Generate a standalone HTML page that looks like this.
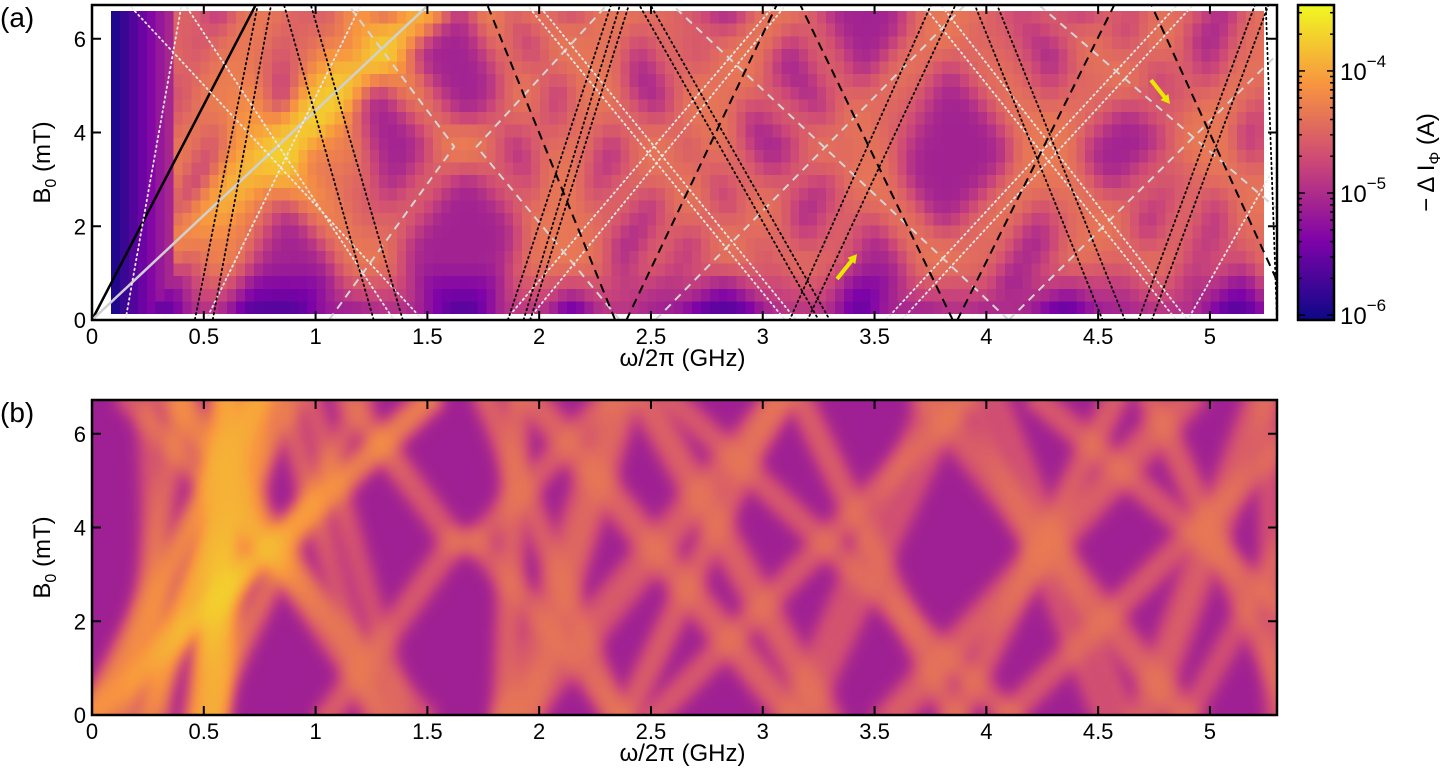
<!DOCTYPE html>
<html><head><meta charset="utf-8">
<style>
html,body{margin:0;padding:0;background:#fff;}
#root{position:relative;width:1453px;height:784px;overflow:hidden;font-family:"Liberation Sans",sans-serif;}
canvas{position:absolute;}
#ca{image-rendering:pixelated;}
svg{position:absolute;left:0;top:0;}
</style></head>
<body>
<div id="root">
<canvas id="ca"></canvas>
<canvas id="cb"></canvas>
<canvas id="cbar"></canvas>
<svg id="sv" width="1453" height="784"></svg>
</div>
<script>
// ---- data ----
const xTicks = [0,0.5,1,1.5,2,2.5,3,3.5,4,4.5,5];
const xTickLabels = ["0","0.5","1","1.5","2","2.5","3","3.5","4","4.5","5"];
const yTicks = [0,2,4,6];
const yTickLabels = ["0","2","4","6"];
const cbTicks = [-6,-5,-4];
// resonance lines: frequency at B=0 and at B=6.7 mT
const solidBlack = [[0,0.73]];
const solidGray = [[0,1.5]];
const dashedBlack = [[2.34,1.77],[2.39,3.06],[3.85,3.17],[3.87,4.57],[5.38,4.74]];
const dashedGrayPolys = [
  [[1.06,0],[1.62,3.7],[1.15,6.7]],
  [[2.36,0],[1.72,3.7],[2.3,6.7]],
  [[2.52,0],[3.9,6.7]],
  [[4.1,0],[2.6,6.7]],
  [[4.1,0],[5.52,6.7]],
  [[5.88,0],[4.24,6.7]]
];
const dottedBlack = [[0.46,0.74],[0.54,0.80],[1.26,0.86],[1.39,0.98],[1.86,2.32],[1.93,2.36],[1.96,2.4],
  [3.3,2.5],[3.25,2.45],[3.12,3.75],[3.2,3.86],[4.62,4.05],[4.52,3.95],[4.74,5.26],[4.68,5.2],[5.3,5.25]];
const dottedWhite = [[0.15,0.4],[1.48,0.17],[1.35,0.42],[0.51,1.2],[1.85,3.05],[1.95,3.1],[3.55,4.85],[3.62,4.92],
  [4.9,3.8],[4.85,3.72],[3.15,2.0],[3.1,1.95],[4.9,5.7]];
const bgA = -5.1;
const bgB = -5.12;
const extraB = [[0.55,0.62,1.4],[0.5,0.58,1.0],[0.25,0.75,1.2],[1.3,0.35,0.7],[0.1,0.9,0.6],[1.85,1.9,1.0],[0.3,0.25,0.5]];

// ---- geometry ----
const A = {l:92,r:1277,t:5,b:320}, Bp = {l:92,r:1277,t:400,b:715};
const fMax = 5.3, bMax = 6.72;
function xs(p,f){return p.l + f/fMax*(p.r-p.l);}
function ys(p,b){return p.b - b/bMax*(p.b-p.t);}
const stops=[[13,8,135],[126,3,168],[204,71,120],[248,149,64],[240,249,33]];
function cmap(t){t=Math.max(0,Math.min(1,t));const s=t*4;const i=Math.min(3,Math.floor(s));const u=s-i;
 return stops[i].map((c,k)=>Math.round(c+(stops[i+1][k]-c)*u));}
const vMin=-6.04,vMax=-3.46;
function allSegments(){
 const segs=[];
 solidBlack.concat(solidGray).forEach(l=>segs.push([l[0],0,l[1],6.7,1.3]));
 dashedBlack.forEach(l=>segs.push([l[0],0,l[1],6.7,0.9]));
 dottedBlack.forEach(l=>segs.push([l[0],0,l[1],6.7,0.6]));
 dottedWhite.forEach(l=>segs.push([l[0],0,l[1],6.7,0.6]));
 dashedGrayPolys.forEach(p=>{for(let i=0;i<p.length-1;i++)segs.push([p[i][0],p[i][1],p[i+1][0],p[i+1][1],0.8]);});
 return segs;
}
function intensity(segs,f,b,p,w){
 const px=xs(p,f),py=ys(p,b);let s=0;
 for(const g of segs){
  const x1=xs(p,g[0]),y1=ys(p,g[1]),x2=xs(p,g[2]),y2=ys(p,g[3]);
  const dx=x2-x1,dy=y2-y1;let t=((px-x1)*dx+(py-y1)*dy)/(dx*dx+dy*dy);t=Math.max(0,Math.min(1,t));
  const ex=px-(x1+t*dx),ey=py-(y1+t*dy);const d2=(ex*ex+ey*ey)/(w*w);
  s+=g[4]*Math.exp(-d2);
 }
 return s;
}
function boostA(f,b){const c=0.25+0.19*b;return 1+0.85*Math.exp(-Math.pow((f-c)/0.42,2))*Math.min(1,b/3.5);}
function boostB(f,b){return 1+0.5*Math.exp(-Math.pow((f-0.6)/0.35,2))+0.25*Math.exp(-Math.pow((f-(b/6.7)*1.5)/0.25,2));}
// ---- panel a heatmap ----
(function(){
 const f0=0.085,f1=5.24,b0=0.13,b1=6.6,nc=129,nr=24;
 const c=document.getElementById('ca');c.width=nc;c.height=nr;
 c.style.left=xs(A,f0)+'px';c.style.top=ys(A,b1)+'px';
 c.style.width=(xs(A,f1)-xs(A,f0))+'px';c.style.height=(ys(A,b0)-ys(A,b1))+'px';
 const ctx=c.getContext('2d');const im=ctx.createImageData(nc,nr);const segs=allSegments();
 for(let j=0;j<nr;j++)for(let i=0;i<nc;i++){
  const f=f0+(i+0.5)*(f1-f0)/nc,b=b1-(j+0.5)*(b1-b0)/nr;
  const s=intensity(segs,f,b,A,20);
  let v=bgA+0.78*(1-Math.exp(-1.2*s))*boostA(f,b);
  if(b<1.2)v-=(1.2-b)*0.55;
  if(f<0.35){const m=-6.0+(f-0.085)/0.25*0.9;v=Math.min(v,m);}
  const col=cmap((v-vMin)/(vMax-vMin));const k=(j*nc+i)*4;
  im.data[k]=col[0];im.data[k+1]=col[1];im.data[k+2]=col[2];im.data[k+3]=255;}
 ctx.putImageData(im,0,0);
})();
// ---- panel b heatmap ----
(function(){
 const nc=300,nr=90;const c=document.getElementById('cb');c.width=nc;c.height=nr;
 c.style.left=Bp.l+'px';c.style.top=Bp.t+'px';c.style.width=(Bp.r-Bp.l)+'px';c.style.height=(Bp.b-Bp.t)+'px';
 const ctx=c.getContext('2d');const im=ctx.createImageData(nc,nr);const segs=allSegments();
 extraB.forEach(e=>segs.push([e[0],0,e[1],6.7,e[2]]));
 for(let j=0;j<nr;j++)for(let i=0;i<nc;i++){
  const f=(i+0.5)*fMax/nc,b=bMax-(j+0.5)*bMax/nr;
  const s=intensity(segs,f,b,Bp,13);
  let v=bgB+0.8*(1-Math.exp(-1.2*s))*boostB(f,b);
  const col=cmap((v-vMin)/(vMax-vMin));const k=(j*nc+i)*4;
  im.data[k]=col[0];im.data[k+1]=col[1];im.data[k+2]=col[2];im.data[k+3]=255;}
 ctx.putImageData(im,0,0);
})();
// ---- colorbar ----
const CB={l:1298,r:1334,t:5,b:320};
(function(){
 const c=document.getElementById('cbar');c.width=1;c.height=200;
 c.style.left=CB.l+'px';c.style.top=CB.t+'px';c.style.width=(CB.r-CB.l)+'px';c.style.height=(CB.b-CB.t)+'px';
 const ctx=c.getContext('2d');for(let j=0;j<200;j++){const col=cmap(1-(j+0.5)/200);ctx.fillStyle=`rgb(${col})`;ctx.fillRect(0,j,1,1);}
})();
// ---- svg overlay ----
const NS='http://www.w3.org/2000/svg';const sv=document.getElementById('sv');
function mk(tag,attrs,parent){const e=document.createElementNS(NS,tag);for(const k in attrs)e.setAttribute(k,attrs[k]);(parent||sv).appendChild(e);return e;}
const clipDef=mk('defs',{});const cp=mk('clipPath',{id:'clipA'},clipDef);mk('rect',{x:A.l,y:A.t,width:A.r-A.l,height:A.b-A.t},cp);
const gl=mk('g',{'clip-path':'url(#clipA)'});

function drawLine(pts,st,name){const d=pts.map((p,i)=>(i?'L':'M')+xs(A,p[0]).toFixed(1)+','+ys(A,p[1]).toFixed(1)).join('');
 const e=mk('path',Object.assign({d:d,fill:'none'},st),gl);
 
 }
solidBlack.forEach(l=>drawLine([[l[0],0],[l[0]+(l[1]-l[0])*7/6.7,7]],{stroke:'#000','stroke-width':2.5},'solid-black-line'));
solidGray.forEach(l=>drawLine([[l[0],0],[l[0]+(l[1]-l[0])*7/6.7,7]],{stroke:'#d0d0d0','stroke-width':2.5},'solid-gray-line'));
function extend(l){const s=(l[1]-l[0])/6.7;return [[l[0]-s*0.3,-0.3],[l[1]+s*0.3,7]];}
dashedGrayPolys.forEach(p=>drawLine(p,{stroke:'#d4d4d4','stroke-width':2,'stroke-dasharray':'8,6'},'dashed-gray-line'));
dottedWhite.forEach(l=>drawLine(extend(l),{stroke:'#e8e8e8','stroke-width':1.8,'stroke-dasharray':'1.5,3.5','stroke-linecap':'round'},'dotted-white-line'));
dottedBlack.forEach(l=>drawLine(extend(l),{stroke:'#000','stroke-width':1.8,'stroke-dasharray':'1.5,3.5','stroke-linecap':'round'},'dotted-black-line'));
dashedBlack.forEach(l=>drawLine(extend(l),{stroke:'#000','stroke-width':2,'stroke-dasharray':'9,6'},'dashed-black-line'));
// arrows
function arrow(x1,y1,x2,y2,name){const g=mk('g',{});
 
 
 const a=Math.atan2(y2-y1,x2-x1),h=9;
 mk('line',{x1:x1,y1:y1,x2:x2-Math.cos(a)*6,y2:y2-Math.sin(a)*6,stroke:'#e8e800','stroke-width':4},g);
 const p=[[x2,y2],[x2-h*Math.cos(a)+5*Math.sin(a),y2-h*Math.sin(a)-5*Math.cos(a)],[x2-h*Math.cos(a)-5*Math.sin(a),y2-h*Math.sin(a)+5*Math.cos(a)]];
 mk('polygon',{points:p.map(q=>q.join(',')).join(' '),fill:'#e8e800'},g);}
arrow(837,279,857,254,'yellow-arrow-lower');
arrow(1151,80,1170,104,'yellow-arrow-upper');
// axes
function axes(p,tag){
 const fr=mk('rect',{x:p.l,y:p.t,width:p.r-p.l,height:p.b-p.t,fill:'none',stroke:'#000','stroke-width':2.5});
 
 xTicks.forEach((v,i)=>{const x=xs(p,v);
  mk('line',{x1:x,y1:p.b,x2:x,y2:p.b-9,stroke:'#000','stroke-width':2});
  mk('line',{x1:x,y1:p.t,x2:x,y2:p.t+9,stroke:'#000','stroke-width':2});
  const t=mk('text',{x:x,y:p.b+24,'text-anchor':'middle','font-size':22,fill:'#000'});t.textContent=xTickLabels[i];
  });
 yTicks.forEach((v,i)=>{const y=ys(p,v);
  mk('line',{x1:p.l,y1:y,x2:p.l+9,y2:y,stroke:'#000','stroke-width':2});
  mk('line',{x1:p.r,y1:y,x2:p.r-9,y2:y,stroke:'#000','stroke-width':2});
  const t=mk('text',{x:p.l-6,y:y+8,'text-anchor':'end','font-size':22,fill:'#000'});t.textContent=yTickLabels[i];
  });
 const xt=mk('text',{x:(p.l+p.r)/2-2,y:p.b+46,'text-anchor':'middle','font-size':24,fill:'#000'});xt.textContent='ω/2π (GHz)';
 
 const yc=(p.t+p.b)/2;
 const yt=mk('text',{x:0,y:0,transform:`translate(${p.l-42},${yc}) rotate(-90)`,'text-anchor':'middle','font-size':24,fill:'#000'});
 yt.innerHTML='B<tspan font-size="16" dy="6">0</tspan><tspan dy="-6"> (mT)</tspan>';
 
}
axes(A,'panel-a');axes(Bp,'panel-b');
const la=mk('text',{x:0,y:27,'font-size':28,fill:'#000'});la.textContent='(a)';

const lb=mk('text',{x:0,y:422,'font-size':28,fill:'#000'});lb.textContent='(b)';

// colorbar frame & ticks
const cbf=mk('rect',{x:CB.l,y:CB.t,width:CB.r-CB.l,height:CB.b-CB.t,fill:'none',stroke:'#000','stroke-width':2.5});

function cy(v){return CB.b-(v-vMin)/(vMax-vMin)*(CB.b-CB.t);}
for(let d=-6;d<=-4;d++){for(let m=1;m<10;m++){const v=d+Math.log10(m);if(v>vMax)break;const y=cy(v);const L=m===1?7:4;
 mk('line',{x1:CB.l,y1:y,x2:CB.l+L,y2:y,stroke:'#000','stroke-width':1.5});mk('line',{x1:CB.r,y1:y,x2:CB.r-L,y2:y,stroke:'#000','stroke-width':1.5});}}
cbTicks.forEach(v=>{const t=mk('text',{x:CB.r+6,y:cy(v)+9,'font-size':24,fill:'#000'});
 t.innerHTML='10<tspan font-size="17" dy="-13">−'+(-v)+'</tspan>';
 });
const ct=mk('text',{x:0,y:0,transform:`translate(${1434},${(CB.t+CB.b)/2}) rotate(-90)`,'text-anchor':'middle','font-size':24,fill:'#000'});
ct.innerHTML='− Δ I<tspan font-size="16" dy="6">Φ</tspan><tspan dy="-6"> (A)</tspan>';

</script>
</body></html>
